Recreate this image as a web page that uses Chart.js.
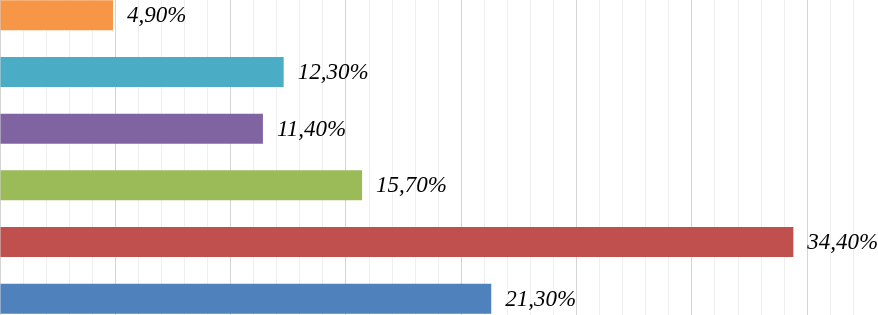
<!DOCTYPE html>
<html>
<head>
<meta charset="utf-8">
<script src="https://cdn.jsdelivr.net/npm/chart.js@4"></script>
<style>
  html, body { margin: 0; padding: 0; background: #fff; overflow: hidden; }
  #wrap { position: relative; width: 878px; height: 315px; overflow: hidden; }
  #grafico { position: absolute; left: 0; top: -13px; }
</style>
</head>
<body>
<div id="wrap"><canvas id="grafico" width="878" height="340"></canvas></div>
<script>
var categorias = ['A', 'B', 'C', 'D', 'E', 'F'];
var valores = [4.9, 12.3, 11.4, 15.7, 34.4, 21.3];
var colores = ['#F79646', '#4BACC6', '#8064A2', '#9BBB59', '#C0504D', '#4F81BD'];

// etiquetas al final de cada barra
var etiquetas = {
  id: 'etiquetas',
  afterDatasetsDraw: function (chart) {
    var ctx = chart.ctx;
    var meta = chart.getDatasetMeta(0);
    ctx.save();
    ctx.font = 'italic 23px "Liberation Serif", "Times New Roman", serif';
    ctx.fillStyle = '#000';
    ctx.textBaseline = 'middle';
    ctx.textAlign = 'left';
    meta.data.forEach(function (barra, i) {
      var txt = valores[i].toFixed(2).replace('.', ',') + '%';
      ctx.fillText(txt, barra.x + 14, barra.y + 1);
    });
    ctx.restore();
  }
};

var ctx = document.getElementById('grafico').getContext('2d');
var grafico = new Chart(ctx, {
  type: 'bar',
  data: {
    labels: categorias,
    datasets: [{
      data: valores,
      backgroundColor: colores,
      borderWidth: 0,
      barPercentage: 1,
      categoryPercentage: 0.53
    }]
  },
  options: {
    indexAxis: 'y',
    responsive: false,
    animation: false,
    layout: { padding: 0 },
    plugins: { legend: { display: false }, tooltip: { enabled: false } },
    scales: {
      x: {
        min: 0,
        max: 38.07,
        border: { display: false },
        ticks: { display: false, stepSize: 1 },
        grid: {
          drawTicks: false,
          lineWidth: 1,
          color: function (c) {
            return (c.tick && c.tick.value % 5 === 0) ? '#d4d4d4' : '#efefef';
          }
        }
      },
      y: { display: false }
    }
  },
  plugins: [etiquetas]
});
</script>
</body>
</html>
